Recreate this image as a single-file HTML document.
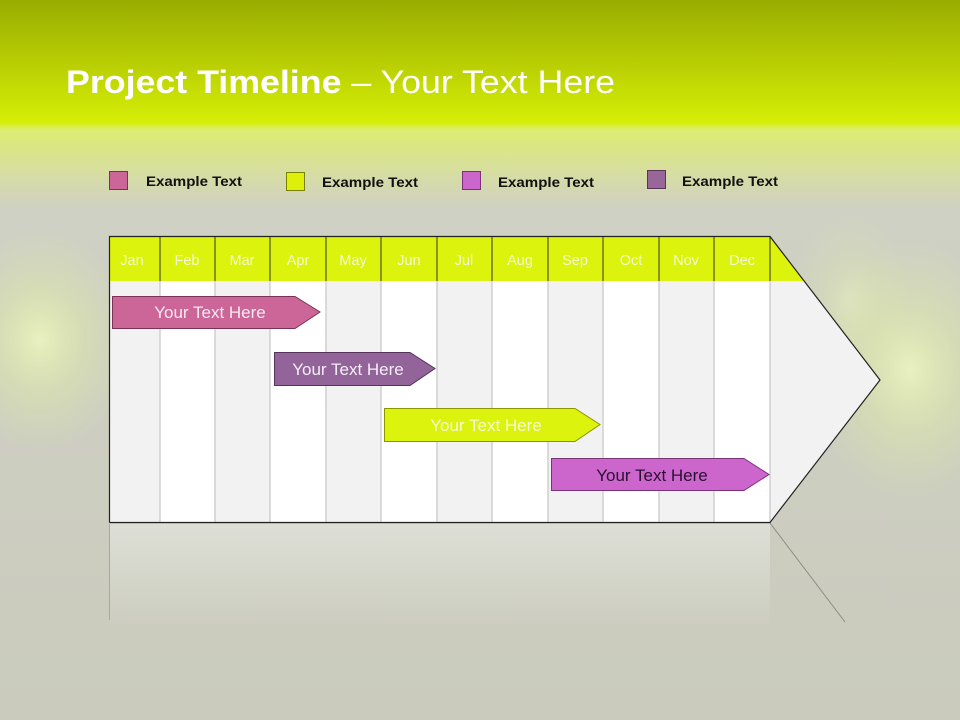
<!DOCTYPE html>
<html><head><meta charset="utf-8"><style>
html,body{margin:0;padding:0;}
body{width:960px;height:720px;overflow:hidden;font-family:"Liberation Sans",sans-serif;}
</style></head><body>
<svg width="960" height="720" viewBox="0 0 960 720" xmlns="http://www.w3.org/2000/svg" font-family="Liberation Sans, sans-serif">
<defs>
<linearGradient id="bg" x1="0" y1="0" x2="0" y2="1">
<stop offset="0" stop-color="#98ac00"/>
<stop offset="0.17" stop-color="#d6ee06"/>
<stop offset="0.18" stop-color="#dcec70"/>
<stop offset="0.23" stop-color="#d8e09a"/>
<stop offset="0.29" stop-color="#cfd1c4"/>
<stop offset="1" stop-color="#cacbbd"/>
</linearGradient>
<radialGradient id="gl" cx="0.5" cy="0.5" r="0.5">
<stop offset="0" stop-color="#f4ffc0" stop-opacity="0.7"/>
<stop offset="0.5" stop-color="#e6f59a" stop-opacity="0.3"/>
<stop offset="1" stop-color="#e6f59a" stop-opacity="0"/>
</radialGradient>
<linearGradient id="refl" x1="0" y1="0" x2="0" y2="1">
<stop offset="0" stop-color="#e2e3db"/>
<stop offset="1" stop-color="#cdcec1"/>
</linearGradient>
</defs>
<rect width="960" height="720" fill="url(#bg)"/>
<ellipse cx="40" cy="340" rx="90" ry="110" fill="url(#gl)"/>
<ellipse cx="910" cy="370" rx="100" ry="130" fill="url(#gl)"/>
<ellipse cx="850" cy="300" rx="60" ry="90" fill="url(#gl)" opacity="0.5"/>

<text x="66" y="93" font-size="32" fill="#ffffff" textLength="549" lengthAdjust="spacingAndGlyphs"><tspan font-weight="bold">Project Timeline</tspan> – Your Text Here</text>

<g font-size="14" font-weight="bold" fill="#111">
<rect x="109.5" y="171.5" width="18" height="18" fill="#cc6699" stroke="#7a3355"/>
<text x="146" y="186" textLength="96" lengthAdjust="spacingAndGlyphs">Example Text</text>
<rect x="286.5" y="172.5" width="18" height="18" fill="#dcf00a" stroke="#7a8000"/>
<text x="322" y="187" textLength="96" lengthAdjust="spacingAndGlyphs">Example Text</text>
<rect x="462.5" y="171.5" width="18" height="18" fill="#cc66cc" stroke="#7a337a"/>
<text x="498" y="187" textLength="96" lengthAdjust="spacingAndGlyphs">Example Text</text>
<rect x="647.5" y="170.5" width="18" height="18" fill="#996699" stroke="#5a3358"/>
<text x="682" y="186" textLength="96" lengthAdjust="spacingAndGlyphs">Example Text</text>
</g>

<rect x="109" y="524" width="661" height="100" fill="url(#refl)" opacity="0.8"/>
<line x1="770" y1="523" x2="845" y2="622" stroke="#8a8b80" stroke-width="1"/>
<line x1="109.5" y1="524" x2="109.5" y2="620" stroke="#a8a99e" stroke-width="1"/>

<polygon points="770,236 880,380 770,522" fill="#f2f2f2"/>
<polygon points="770,236 805,281 770,281" fill="#dcf30d"/>
<g>
<rect x="109" y="281" width="51" height="241" fill="#f2f2f2"/>
<rect x="160" y="281" width="55" height="241" fill="#ffffff"/>
<rect x="215" y="281" width="55" height="241" fill="#f2f2f2"/>
<rect x="270" y="281" width="56" height="241" fill="#ffffff"/>
<rect x="326" y="281" width="55" height="241" fill="#f2f2f2"/>
<rect x="381" y="281" width="56" height="241" fill="#ffffff"/>
<rect x="437" y="281" width="55" height="241" fill="#f2f2f2"/>
<rect x="492" y="281" width="56" height="241" fill="#ffffff"/>
<rect x="548" y="281" width="55" height="241" fill="#f2f2f2"/>
<rect x="603" y="281" width="56" height="241" fill="#ffffff"/>
<rect x="659" y="281" width="55" height="241" fill="#f2f2f2"/>
<rect x="714" y="281" width="56" height="241" fill="#ffffff"/>
</g>
<g stroke="#d0d0d0" stroke-width="1.5">
<line x1="160" y1="281" x2="160" y2="522"/><line x1="215" y1="281" x2="215" y2="522"/>
<line x1="270" y1="281" x2="270" y2="522"/><line x1="326" y1="281" x2="326" y2="522"/>
<line x1="381" y1="281" x2="381" y2="522"/><line x1="437" y1="281" x2="437" y2="522"/>
<line x1="492" y1="281" x2="492" y2="522"/><line x1="548" y1="281" x2="548" y2="522"/>
<line x1="603" y1="281" x2="603" y2="522"/><line x1="659" y1="281" x2="659" y2="522"/>
<line x1="714" y1="281" x2="714" y2="522"/><line x1="770" y1="281" x2="770" y2="522"/>
</g>
<rect x="109" y="236" width="661" height="45" fill="#dcf30d"/>
<g stroke="#333" stroke-width="1">
<line x1="160" y1="236" x2="160" y2="281"/><line x1="215" y1="236" x2="215" y2="281"/>
<line x1="270" y1="236" x2="270" y2="281"/><line x1="326" y1="236" x2="326" y2="281"/>
<line x1="381" y1="236" x2="381" y2="281"/><line x1="437" y1="236" x2="437" y2="281"/>
<line x1="492" y1="236" x2="492" y2="281"/><line x1="548" y1="236" x2="548" y2="281"/>
<line x1="603" y1="236" x2="603" y2="281"/><line x1="659" y1="236" x2="659" y2="281"/>
<line x1="714" y1="236" x2="714" y2="281"/><line x1="770" y1="236" x2="770" y2="281"/>
</g>
<polyline points="109.5,522.5 109.5,236.5 770,236.5 880,380 770,522.5 109.5,522.5" fill="none" stroke="#222" stroke-width="1.2"/>
<g font-size="14.5" fill="#f4f8d0" text-anchor="middle">
<text x="132" y="265">Jan</text><text x="187" y="265">Feb</text><text x="242" y="265">Mar</text>
<text x="298" y="265">Apr</text><text x="353" y="265">May</text><text x="409" y="265">Jun</text>
<text x="464" y="265">Jul</text><text x="520" y="265">Aug</text><text x="575" y="265">Sep</text>
<text x="631" y="265">Oct</text><text x="686" y="265">Nov</text><text x="742" y="265">Dec</text>
</g>

<g font-size="17" text-anchor="middle">
<polygon points="112.5,296.5 295,296.5 320,312 295,328.5 112.5,328.5" fill="#cc6699" stroke="#7a3355"/>
<text x="210" y="318" fill="#f8e8f0">Your  Text Here</text>
<polygon points="274.5,352.5 410,352.5 435,368.5 410,385.5 274.5,385.5" fill="#93649a" stroke="#55335a"/>
<text x="348" y="375" fill="#f4eef6">Your  Text Here</text>
<polygon points="384.5,408.5 575,408.5 600,424.5 575,441.5 384.5,441.5" fill="#dcf30d" stroke="#8a9500"/>
<text x="486" y="431" fill="#f6fbd0">Your  Text Here</text>
<polygon points="551.5,458.5 744,458.5 769,474.5 744,490.5 551.5,490.5" fill="#cc66cc" stroke="#7a337a"/>
<text x="652" y="481" fill="#2a1030">Your  Text Here</text>
</g>
</svg>
</body></html>
